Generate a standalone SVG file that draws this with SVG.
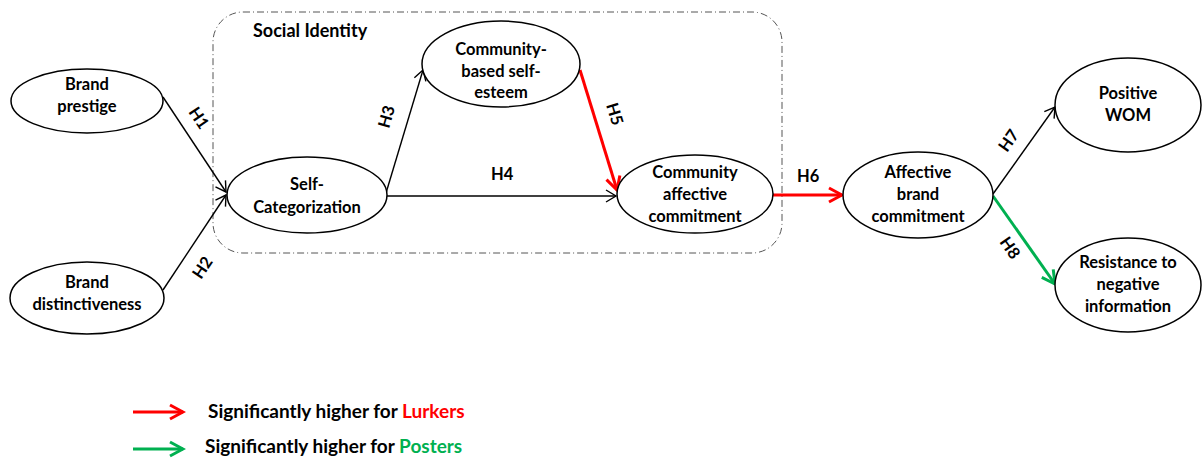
<svg xmlns="http://www.w3.org/2000/svg" width="1203" height="459" viewBox="0 0 1203 459">
<style>
.node ellipse{fill:#fff;stroke:#000;stroke-width:1.5}
text{font-family:Lato,"Liberation Sans",sans-serif;font-weight:bold;font-size:16.5px;fill:#000}
.t{text-anchor:middle}
.lg{font-size:19px}
.blk{stroke:#000;stroke-width:1.4;fill:none}
.red{stroke:#f00;stroke-width:3;fill:none}
.grn{stroke:#00b050;stroke-width:3;fill:none}
</style>
<defs>
<marker id="ab" markerUnits="userSpaceOnUse" markerWidth="14" markerHeight="16" refX="11" refY="7" orient="auto" viewBox="0 0 14 14">
<path d="M1,1 L11,7 L1,13" fill="none" stroke="#000" stroke-width="1.4"/>
</marker>
<marker id="ar" markerUnits="userSpaceOnUse" markerWidth="18" markerHeight="20" refX="15" refY="9" orient="auto" viewBox="0 0 18 18">
<path d="M2,2 L15,9 L2,16" fill="none" stroke="#f00" stroke-width="3"/>
</marker>
<marker id="ag" markerUnits="userSpaceOnUse" markerWidth="18" markerHeight="20" refX="15" refY="9" orient="auto" viewBox="0 0 18 18">
<path d="M2,2 L15,9 L2,16" fill="none" stroke="#00b050" stroke-width="3"/>
</marker>
</defs>
<g id="social-identity">
<rect x="213" y="12" width="569" height="241" rx="30" ry="30" fill="none" stroke="#555" stroke-width="1" stroke-dasharray="7,3,1,3"/>
<text x="253" y="37" style="font-size:18px">Social Identity</text>
</g>
<g id="connectors">
<line class="blk" x1="163" y1="97" x2="226" y2="192" marker-end="url(#ab)"/>
<line class="blk" x1="163" y1="290" x2="226" y2="195" marker-end="url(#ab)"/>
<line class="blk" x1="386" y1="193" x2="423" y2="70" marker-end="url(#ab)"/>
<line class="blk" x1="387" y1="196" x2="616" y2="196" marker-end="url(#ab)"/>
<line class="red" x1="580" y1="70" x2="617" y2="190" marker-end="url(#ar)"/>
<line class="red" x1="773" y1="195" x2="842" y2="195" marker-end="url(#ar)"/>
<line class="blk" x1="993" y1="194" x2="1055" y2="107" marker-end="url(#ab)"/>
<line class="grn" x1="993" y1="196" x2="1055" y2="284" marker-end="url(#ag)"/>
<text transform="translate(188,112) rotate(56)">H1</text>
<text transform="translate(201,280) rotate(-56)">H2</text>
<text transform="translate(389,129) rotate(-74)">H3</text>
<text x="491" y="180">H4</text>
<text transform="translate(606,105) rotate(73)">H5</text>
<text x="797" y="182">H6</text>
<text transform="translate(1007,153) rotate(-55)">H7</text>
<text transform="translate(999,242) rotate(55)">H8</text>
</g>
<g id="brand-prestige" class="node">
<ellipse cx="87" cy="101" rx="76" ry="32"/>
<text class="t" x="87" y="90">Brand</text>
<text class="t" x="87" y="112">prestige</text>
</g>
<g id="brand-distinctiveness" class="node">
<ellipse cx="87" cy="298" rx="77" ry="36"/>
<text class="t" x="87" y="288">Brand</text>
<text class="t" x="87" y="310">distinctiveness</text>
</g>
<g id="self-categorization" class="node">
<ellipse cx="307" cy="195" rx="80" ry="38"/>
<text class="t" x="307" y="190">Self-</text>
<text class="t" x="307" y="213">Categorization</text>
</g>
<g id="community-self-esteem" class="node">
<ellipse cx="501" cy="64" rx="79" ry="43"/>
<text class="t" x="501" y="55">Community-</text>
<text class="t" x="501" y="77">based self-</text>
<text class="t" x="501" y="98">esteem</text>
</g>
<g id="community-affective-commitment" class="node">
<ellipse cx="695" cy="194" rx="78" ry="39"/>
<text class="t" x="695" y="178">Community</text>
<text class="t" x="695" y="200">affective</text>
<text class="t" x="695" y="222">commitment</text>
</g>
<g id="affective-brand-commitment" class="node">
<ellipse cx="918" cy="195" rx="75" ry="43"/>
<text class="t" x="918" y="178">Affective</text>
<text class="t" x="918" y="200">brand</text>
<text class="t" x="918" y="222">commitment</text>
</g>
<g id="positive-wom" class="node">
<ellipse cx="1128" cy="105" rx="73" ry="47"/>
<text class="t" x="1128" y="99">Positive</text>
<text class="t" x="1128" y="121">WOM</text>
</g>
<g id="resistance" class="node">
<ellipse cx="1128" cy="285" rx="73" ry="47"/>
<text class="t" x="1128" y="268">Resistance to</text>
<text class="t" x="1128" y="290">negative</text>
<text class="t" x="1128" y="312">information</text>
</g>
<g id="legend">
<line class="red" x1="133" y1="412" x2="183" y2="412" marker-end="url(#ar)"/>
<text class="lg" x="208" y="418">Significantly higher for <tspan fill="#f00">Lurkers</tspan></text>
<line class="grn" x1="133" y1="449" x2="183" y2="449" marker-end="url(#ag)"/>
<text class="lg" x="205" y="453">Significantly higher for <tspan fill="#00b050">Posters</tspan></text>
</g>
</svg>
